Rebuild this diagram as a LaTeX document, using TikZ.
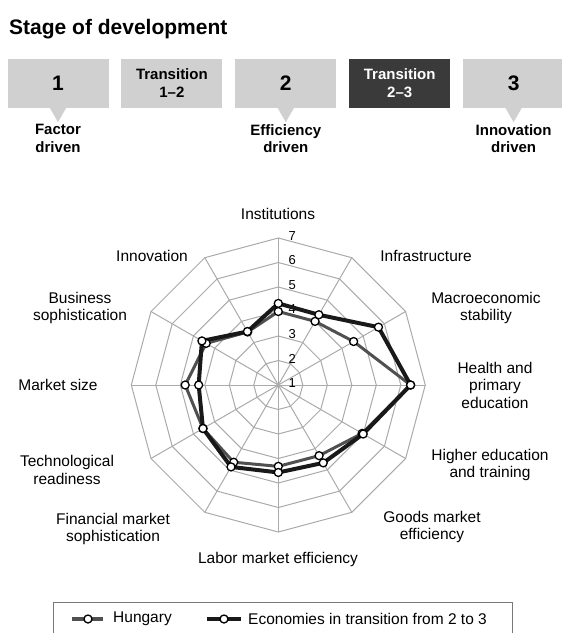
\documentclass[tikz,border=0pt]{standalone}
\usepackage{fontspec}
\setmainfont{Liberation Sans}
\usetikzlibrary{positioning}
\definecolor{boxclr}{RGB}{208,208,208}
\definecolor{darkclr}{RGB}{58,58,58}
\definecolor{gridclr}{RGB}{170,170,170}
\definecolor{hunclr}{RGB}{80,80,80}
\definecolor{ecoclr}{RGB}{25,25,25}
\definecolor{legclr}{RGB}{120,120,120}
\tikzset{ %
  ,>=latex
  ,every node/.style={font=\fontsize{15.5}{17.5}\selectfont}
  ,stagebox/.style={fill=boxclr, minimum width=101pt, minimum height=49pt, inner sep=0, align=center, font=\bfseries\fontsize{21}{21}\selectfont}
  ,transbox/.style={stagebox, font=\bfseries\fontsize{15}{18}\selectfont}
  ,stagetxt/.style={inner sep=0, align=center, font=\bfseries\fontsize{15}{17.5}\selectfont}
  ,axislbl/.style={inner sep=0, align=center}
  ,scalelbl/.style={inner sep=0, font=\fontsize{13}{13}\selectfont}
  ,gridline/.style={draw=gridclr, line width=1pt}
  ,hunline/.style={draw=hunclr, line width=3pt, line join=round}
  ,ecoline/.style={draw=ecoclr, line width=4pt, line join=round}
  ,dot/.style={draw, circle, inner sep=0, minimum size=8pt, fill=white, line width=1.3pt}
}

\begin{document}
\begin{tikzpicture}[x=1pt, y=-1pt]
  \useasboundingbox (0,0) rectangle (562,633);
  % stages
  \node[anchor=base west, inner sep=0, font=\bfseries\fontsize{21}{21}\selectfont] (title) at (9,34) {Stage of development};
  \node[stagebox] (s1) at (58,83.5) {1};
  \node[transbox, right=12.5pt of s1] (t12) {Transition\\1\textendash2};
  \node[stagebox, right=12.5pt of t12] (s2) {2};
  \node[transbox, right=12.5pt of s2, fill=darkclr, text=white] (t23) {Transition\\2\textendash3};
  \node[stagebox, right=12.5pt of t23] (s3) {3};
  \foreach \s in {s1,s2,s3}
    \fill[boxclr] ([xshift=-8pt]\s.south) -- ([xshift=8pt]\s.south) -- ([yshift=-14pt]\s.south) -- cycle;
  \node[stagetxt, below=16pt of s1] (c1) {Factor\\driven};
  \node[stagetxt, below=16pt of s2] (c2) {Efficiency\\driven};
  \node[stagetxt, below=16pt of s3] (c3) {Innovation\\driven};

  % radar
  \begin{scope}[shift={(278.3,385)}]
    \foreach \r in {1,...,6}
      \draw[gridline] (-90:{\r*24.5}) \foreach \k in {1,...,11} { -- ({-90+30*\k}:{\r*24.5}) } -- cycle;
    \foreach \k in {0,...,11}
      \draw[gridline] (0,0) -- ({-90+30*\k}:147);
    \foreach \n in {1,...,7}
      \node[scalelbl] (v\n) at (14,{-(\n-1)*24.5-2}) {\n};
    % Hungary
    \foreach \v [count=\k from 0] in {4.0,4.0,4.55,6.4,4.95,4.33,4.32,4.64,4.55,4.8,4.4,3.5}
      \coordinate (h\k) at ({-90+30*\k}:{(\v-1)*24.5});
    % transition 2-3
    \foreach \v [count=\k from 0] in {4.33,4.31,5.72,6.4,5.0,4.67,4.57,4.86,4.55,4.25,4.6,3.52}
      \coordinate (e\k) at ({-90+30*\k}:{(\v-1)*24.5});
    \draw[hunline] (h0) \foreach \k in {1,...,11} { -- (h\k) } -- cycle;
    \draw[ecoline] (e0) \foreach \k in {1,...,11} { -- (e\k) } -- cycle;
    \foreach \k in {0,...,11} {
      \node[dot] (hm\k) at (h\k) {};
      \node[dot] (em\k) at (e\k) {};
    }
  \end{scope}

  % axis labels
  \node[axislbl] (lInst) at (278,214) {Institutions};
  \node[axislbl] (lInfra) at (426,256) {Infrastructure};
  \node[axislbl] (lMacro) at (486,308) {Macroeconomic\\stability};
  \node[axislbl] (lHealth) at (495,385) {Health and\\primary\\education};
  \node[axislbl] (lHigher) at (490,465) {Higher education\\and training};
  \node[axislbl] (lGoods) at (432,527) {Goods market\\efficiency};
  \node[axislbl] (lLabor) at (278,559) {Labor market efficiency};
  \node[axislbl] (lFin) at (113,529) {Financial market\\sophistication};
  \node[axislbl] (lTech) at (67,470) {Technological\\readiness};
  \node[axislbl] (lMarket) at (58,385) {Market size};
  \node[axislbl] (lBus) at (80,308) {Business\\sophistication};
  \node[axislbl] (lInno) at (152,256) {Innovation};

  % legend
  \draw[draw=legclr, line width=1pt] (53,634) -- (53,602) -- (512,602) -- (512,634);
  \coordinate (hl0) at (72,619);
  \coordinate (hl1) at (103,619);
  \coordinate (el0) at (207,619);
  \coordinate (el1) at (241,619);
  \draw[hunline, line width=4pt] (hl0) -- (hl1);
  \node[dot] (hlm) at (88,619) {};
  \node[anchor=west, inner sep=0] (hlt) at (113,619) {Hungary};
  \draw[ecoline] (el0) -- (el1);
  \node[dot] (elm) at (224,619) {};
  \node[anchor=west, inner sep=0] (elt) at (248,619) {Economies in transition from 2 to 3};
\end{tikzpicture}
\end{document}
